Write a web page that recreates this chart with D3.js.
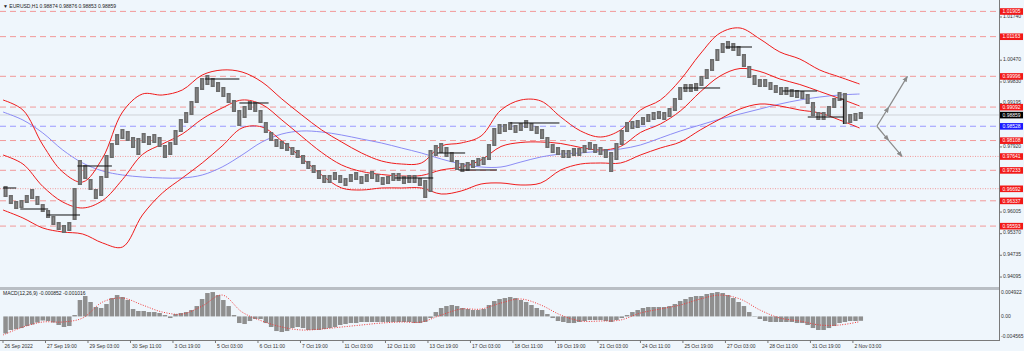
<!DOCTYPE html>
<html><head><meta charset="utf-8">
<script src="https://cdn.jsdelivr.net/npm/d3@7"></script>
<style>html,body{margin:0;padding:0;background:#eff6fc;overflow:hidden}text{font-family:"Liberation Sans",Arial,sans-serif}</style>
</head><body><svg id="c" width="1024" height="351"></svg>
<script>
// ---------- DATA ----------
const symbolTitle = "EURUSD,H1";
const lastBarOHLC = [0.98874, 0.98876, 0.98853, 0.98859];
const barsPerGroup = 4;      // each entry below summarises 4 hourly bars
const groupHigh = [
0.96772,0.96507,0.96331,0.96360,0.96507,0.96683,0.96478,0.96242,0.96066,0.95890,
0.95713,0.95625,0.95713,0.96713,0.97536,0.97389,0.96977,0.96683,0.97066,0.97683,
0.98036,0.98300,0.98447,0.98389,0.98212,0.98183,0.98330,0.98242,0.98300,0.98212,
0.97977,0.98065,0.98418,0.98741,0.98947,0.99271,0.99682,0.99947,1.00035,0.99947,
0.99829,0.99682,0.99506,0.99300,0.99006,0.99124,0.99271,0.99241,0.99006,0.98653,
0.98359,0.98153,0.98095,0.98036,0.97918,0.97830,0.97683,0.97507,0.97389,0.97242,
0.97095,0.97095,0.97183,0.97095,0.97007,0.97124,0.97183,0.97066,0.97124,0.97213,
0.97124,0.97036,0.97066,0.97154,0.97154,0.97066,0.97095,0.97095,0.97007,0.96948,
0.97830,0.97977,0.98036,0.97918,0.97771,0.97536,0.97448,0.97477,0.97536,0.97595,
0.97624,0.98006,0.98477,0.98594,0.98594,0.98653,0.98565,0.98624,0.98712,0.98624,
0.98536,0.98447,0.98212,0.98006,0.97918,0.97830,0.97830,0.97889,0.97889,0.97977,
0.98065,0.98006,0.97918,0.97859,0.97771,0.98036,0.98418,0.98653,0.98683,0.98712,
0.98800,0.98888,0.98947,0.98977,0.98947,0.99065,0.99359,0.99682,0.99770,0.99770,
0.99800,1.00006,1.00211,1.00505,1.00799,1.00976,1.01035,1.00976,1.00888,1.00652,
1.00300,1.00035,0.99917,0.99917,0.99829,0.99741,0.99682,0.99682,0.99623,0.99594,
0.99565,0.99476,0.99241,0.98947,0.98947,0.99124,0.99359,0.99535,0.99506,0.98888,
0.98918,0.98947];
const groupLow = [
0.96448,0.96242,0.96095,0.96125,0.96272,0.96389,0.96213,0.96007,0.95831,0.95625,
0.95478,0.95390,0.95449,0.95772,0.96801,0.96977,0.96654,0.96389,0.96478,0.97007,
0.97595,0.97977,0.98153,0.98095,0.97889,0.97683,0.98036,0.97977,0.98036,0.97918,
0.97595,0.97683,0.97977,0.98359,0.98624,0.98859,0.99212,0.99594,0.99741,0.99682,
0.99535,0.99388,0.99212,0.98947,0.98536,0.98771,0.99006,0.98947,0.98624,0.98330,
0.98095,0.97918,0.97859,0.97801,0.97683,0.97595,0.97418,0.97271,0.97154,0.96977,
0.96860,0.96860,0.96948,0.96860,0.96772,0.96889,0.96948,0.96830,0.96889,0.96977,
0.96889,0.96801,0.96830,0.96919,0.96919,0.96830,0.96860,0.96860,0.96772,0.96419,
0.96595,0.97654,0.97742,0.97624,0.97477,0.97242,0.97183,0.97213,0.97301,0.97360,
0.97389,0.97536,0.97948,0.98300,0.98359,0.98418,0.98330,0.98389,0.98477,0.98389,
0.98300,0.98153,0.97889,0.97742,0.97683,0.97595,0.97595,0.97654,0.97654,0.97742,
0.97830,0.97742,0.97683,0.97595,0.97183,0.97536,0.97977,0.98359,0.98447,0.98477,
0.98565,0.98653,0.98712,0.98741,0.98712,0.98800,0.98977,0.99300,0.99535,0.99535,
0.99565,0.99712,0.99917,1.00153,1.00447,1.00682,1.00799,1.00741,1.00594,1.00270,
0.99947,0.99741,0.99682,0.99682,0.99594,0.99506,0.99447,0.99447,0.99388,0.99359,
0.99329,0.99182,0.98830,0.98712,0.98712,0.98830,0.99065,0.99271,0.98594,0.98624,
0.98683,0.98741];

const indicatorStep = 15;   // indicator samples every 15 bars
const bbUpper = [
0.99300,0.99006,0.97977,0.97183,0.96889,0.97595,0.98947,0.99476,0.99447,0.99594,
1.00035,1.00182,1.00123,0.99829,0.99329,0.98859,0.98418,0.98065,0.97742,0.97507,
0.97418,0.97448,0.97948,0.98036,0.98242,0.99006,0.99300,0.99271,0.98800,0.98389,
0.98212,0.98418,0.99006,0.99300,0.99888,1.00652,1.01270,1.01417,1.01093,1.00711,
1.00505,1.00182,0.99976,0.99770];
const bbMiddle = [
0.97683,0.97418,0.96757,0.96301,0.96125,0.96345,0.96963,0.97698,0.98006,0.98300,
0.98741,0.99065,0.99300,0.99168,0.98712,0.98227,0.97757,0.97389,0.97198,0.97110,
0.97066,0.97080,0.97242,0.97330,0.97536,0.97933,0.98051,0.98065,0.98021,0.97904,
0.97830,0.97933,0.98345,0.98594,0.98977,0.99535,1.00006,1.00226,1.00138,0.99917,
0.99756,0.99550,0.99344,0.99124];
const bbLower = [
0.96066,0.95831,0.95537,0.95419,0.95360,0.95096,0.94978,0.95919,0.96566,0.97007,
0.97448,0.97948,0.98477,0.98506,0.98095,0.97595,0.97095,0.96713,0.96654,0.96713,
0.96713,0.96713,0.96536,0.96625,0.96830,0.96860,0.96801,0.96860,0.97242,0.97418,
0.97448,0.97448,0.97683,0.97889,0.98065,0.98418,0.98741,0.99035,0.99182,0.99124,
0.99006,0.98918,0.98712,0.98477];
const maSlow = [
0.98947,0.98712,0.98330,0.97830,0.97448,0.97213,0.97095,0.97036,0.97007,0.97007,
0.97095,0.97330,0.97683,0.98065,0.98300,0.98389,0.98359,0.98271,0.98153,0.98036,
0.97889,0.97742,0.97565,0.97418,0.97330,0.97330,0.97477,0.97624,0.97712,0.97742,
0.97801,0.97859,0.97977,0.98183,0.98389,0.98565,0.98741,0.98888,0.99035,0.99182,
0.99300,0.99388,0.99447,0.99476];

const macdTitle = "MACD(12,26,9) -0.000852 -0.001016";
const macdMain = [
-0.00330,-0.00263,-0.00244,-0.00225,-0.00186,-0.00157,-0.00118,-0.00079,-0.00089,-0.00118,
-0.00166,-0.00205,-0.00186,0.00027,0.00318,0.00395,0.00279,0.00182,0.00163,0.00240,
0.00356,0.00414,0.00376,0.00318,0.00143,0.00105,0.00105,0.00085,0.00085,0.00066,
0.00027,-0.00031,0.00046,0.00066,0.00085,0.00124,0.00201,0.00337,0.00453,0.00472,
0.00414,0.00318,0.00201,0.00027,-0.00128,-0.00147,-0.00089,-0.00050,-0.00050,-0.00128,
-0.00205,-0.00283,-0.00302,-0.00283,-0.00225,-0.00205,-0.00225,-0.00263,-0.00263,-0.00263,
-0.00244,-0.00225,-0.00205,-0.00166,-0.00147,-0.00128,-0.00128,-0.00108,-0.00108,-0.00108,
-0.00108,-0.00108,-0.00108,-0.00108,-0.00108,-0.00108,-0.00108,-0.00128,-0.00128,-0.00108,
-0.00031,0.00085,0.00163,0.00201,0.00221,0.00201,0.00163,0.00143,0.00124,0.00124,
0.00143,0.00221,0.00298,0.00337,0.00356,0.00376,0.00356,0.00318,0.00279,0.00221,
0.00163,0.00124,0.00046,-0.00031,-0.00089,-0.00108,-0.00128,-0.00128,-0.00108,-0.00089,
-0.00070,-0.00070,-0.00070,-0.00089,-0.00108,-0.00070,-0.00031,0.00027,0.00085,0.00124,
0.00163,0.00182,0.00182,0.00182,0.00182,0.00201,0.00240,0.00298,0.00337,0.00376,
0.00395,0.00395,0.00434,0.00453,0.00472,0.00453,0.00414,0.00356,0.00279,0.00201,
0.00085,0.00008,-0.00050,-0.00089,-0.00108,-0.00108,-0.00108,-0.00108,-0.00108,-0.00128,
-0.00128,-0.00166,-0.00225,-0.00263,-0.00263,-0.00225,-0.00186,-0.00128,-0.00108,-0.00089,
-0.00089,-0.00085];
const macdSignal = [
-0.00360,-0.00205,-0.00108,-0.00108,-0.00031,0.00279,0.00356,0.00221,0.00085,0.00046,
0.00201,0.00414,0.00085,-0.00089,-0.00205,-0.00263,-0.00244,-0.00205,-0.00166,-0.00128,
-0.00108,-0.00108,0.00027,0.00143,0.00143,0.00260,0.00337,0.00221,0.00027,-0.00089,
-0.00089,-0.00070,0.00066,0.00143,0.00221,0.00337,0.00414,0.00337,0.00124,-0.00031,
-0.00089,-0.00166,-0.00166,-0.00102];
const macdScaleLabels = [0.004922, 0.00, -0.004565];

const dashedLevels = [1.01905, 1.01163, 0.99996, 0.99092, 0.98108, 0.97233, 0.96337, 0.95593];
const dottedLevels = [0.97641, 0.96692];
const pivotLevel = [0.98528];
const bidPrice = 0.98859;
// price scale labels visible in the picture (the others sit under level boxes)
const priceTicks = [1.01740,1.00470,0.99830,0.99195,0.97920,0.96005,0.95370,0.94735,0.94095];

const timeLabels = ["26 Sep 2022","27 Sep 19:00","29 Sep 03:00","30 Sep 11:00","3 Oct 19:00","5 Oct 03:00","6 Oct 11:00","7 Oct 19:00","11 Oct 03:00","12 Oct 11:00","13 Oct 19:00","17 Oct 03:00","18 Oct 11:00","19 Oct 19:00","21 Oct 03:00","24 Oct 11:00","25 Oct 19:00","27 Oct 03:00","28 Oct 11:00","31 Oct 19:00","2 Nov 03:00"];
const timeLabelBars = [0,32,64,96,128,160,192,224,256,288,320,352,384,416,448,480,512,544,576,608,640];

// black session lines: [barFrom, priceFrom, barTo, priceTo]
const sessionLines = [
[0,0.96713,10,0.96713],[13,0.96095,34,0.96095],[33,0.95919,58,0.95919],[56,0.97360,82,0.97360],
[152,0.99917,178,0.99917],[178,0.99212,200,0.99212],[295,0.97007,324,0.97007],[327,0.97742,348,0.97742],
[343,0.97242,372,0.97242],[382,0.98624,419,0.98624],[512,0.99653,540,0.99653],[544,1.00858,564,1.00858],
[587,0.99565,613,0.99565],[606,0.98800,633,0.98800],[630,0.99329,633,0.99329],[633,0.99329,633,0.98594]];

// projected scenarios [bar, price]
const projUp = [[658,0.98528],[667,0.99092],[681,0.99996]];
const projDown = [[658,0.98528],[667,0.98108],[677,0.97641]];

// ---------- DRAWING ----------
const W = 1024, H = 351;
const svg = d3.select('#c');
const bg = '#eff6fc';
svg.append('rect').attr('width', W).attr('height', H).attr('fill', bg);

const xS = d3.scaleLinear().domain([0, 750]).range([3, 999]);
const yP = d3.scaleLinear().domain([0.9408, 1.0224]).range([277.55, 0]);
const yM = d3.scaleLinear().domain([-0.004565, 0.004922]).range([340, 291]);

const defs = svg.append('defs');
defs.append('clipPath').attr('id', 'cm').append('rect').attr('x', 0).attr('y', 0).attr('width', 999).attr('height', 287);
defs.append('clipPath').attr('id', 'cd').append('rect').attr('x', 0).attr('y', 290).attr('width', 999).attr('height', 50);
defs.append('marker').attr('id', 'ah').attr('viewBox', '0 0 10 10').attr('refX', 9).attr('refY', 5)
  .attr('markerWidth', 5).attr('markerHeight', 5).attr('orient', 'auto')
  .append('path').attr('d', 'M0,1 L10,5 L0,9 Z').attr('fill', '#8a8a8a');

const main = svg.append('g').attr('clip-path', 'url(#cm)');

// level lines
dashedLevels.forEach(p => main.append('line').attr('x1', 0).attr('x2', 999).attr('y1', yP(p)).attr('y2', yP(p))
  .attr('stroke', '#f29a9a').attr('stroke-width', 1).attr('stroke-dasharray', '6,4'));
dottedLevels.forEach(p => main.append('line').attr('x1', 0).attr('x2', 999).attr('y1', yP(p)).attr('y2', yP(p))
  .attr('stroke', '#f29a9a').attr('stroke-width', 1).attr('stroke-dasharray', '1,1.5'));
pivotLevel.forEach(p => main.append('line').attr('x1', 0).attr('x2', 999).attr('y1', yP(p)).attr('y2', yP(p))
  .attr('stroke', '#9a9aff').attr('stroke-width', 1).attr('stroke-dasharray', '6,4'));
main.append('line').attr('x1', 0).attr('x2', 999).attr('y1', yP(bidPrice)).attr('y2', yP(bidPrice))
  .attr('stroke', '#cfd3d8').attr('stroke-width', 1);

// indicator lines
const indLine = d3.line().x((d, k) => xS(k * indicatorStep)).y(d => yP(d)).curve(d3.curveCatmullRom.alpha(0.5));
main.append('path').attr('d', indLine(maSlow)).attr('fill', 'none').attr('stroke', '#8c8cf5').attr('stroke-width', 1);
[bbUpper, bbMiddle, bbLower].forEach(arr => main.append('path').attr('d', indLine(arr))
  .attr('fill', 'none').attr('stroke', '#f01c1c').attr('stroke-width', 1));

// price bars (grouped)
const gw = xS(barsPerGroup) - xS(0);
main.selectAll('rect.pb').data(groupHigh).enter().append('rect').attr('class', 'pb')
  .attr('x', (d, i) => xS(i * barsPerGroup) + 0.5)
  .attr('width', gw - 1.2)
  .attr('y', d => yP(d))
  .attr('height', (d, i) => Math.max(1, yP(groupLow[i]) - yP(d)))
  .attr('fill', '#6c6c6c');
main.selectAll('line.pw').data(groupHigh).enter().append('line').attr('class', 'pw')
  .attr('x1', (d, i) => xS(i * barsPerGroup + 2)).attr('x2', (d, i) => xS(i * barsPerGroup + 2))
  .attr('y1', d => yP(d) + 1.5).attr('y2', (d, i) => yP(groupLow[i]) - 1.5)
  .attr('stroke', '#a8a8a8').attr('stroke-width', 0.6);

// session lines
sessionLines.forEach(s => main.append('line').attr('x1', xS(s[0])).attr('x2', xS(s[2]))
  .attr('y1', yP(s[1])).attr('y2', yP(s[3])).attr('stroke', '#111').attr('stroke-width', 1));

// projections
[projUp, projDown].forEach(pr => {
  for (let k = 0; k < pr.length - 1; k++) {
    main.append('line').attr('x1', xS(pr[k][0])).attr('y1', yP(pr[k][1]))
      .attr('x2', xS(pr[k + 1][0])).attr('y2', yP(pr[k + 1][1]))
      .attr('stroke', '#8a8a8a').attr('stroke-width', 1.2).attr('marker-end', 'url(#ah)');
  }
});

// header
svg.append('text').attr('x', 3).attr('y', 7.5).attr('font-size', 5).attr('fill', '#222')
  .text('\u25BC ' + symbolTitle + ' ' + lastBarOHLC.map(v => v.toFixed(5)).join(' '));

// separators and axes
svg.append('rect').attr('x', 0).attr('y', 287).attr('width', 1000).attr('height', 3).attr('fill', '#b9bec4');
svg.append('line').attr('x1', 999.5).attr('x2', 999.5).attr('y1', 0).attr('y2', 340).attr('stroke', '#7a7a7a');
svg.append('line').attr('x1', 0).attr('x2', 1000).attr('y1', 340.5).attr('y2', 340.5).attr('stroke', '#7a7a7a');

// price tick labels
priceTicks.forEach(t => {
  svg.append('line').attr('x1', 999).attr('x2', 1002).attr('y1', yP(t)).attr('y2', yP(t)).attr('stroke', '#777');
  svg.append('text').attr('x', 1003).attr('y', yP(t) + 0.6).attr('font-size', 5).attr('fill', '#333').text(t.toFixed(5));
});
// level boxes
function box(p, fill) {
  const y = yP(p);
  svg.append('rect').attr('x', 1000).attr('y', y - 3.2).attr('width', 23).attr('height', 6.6).attr('fill', fill);
  svg.append('text').attr('x', 1002.5).attr('y', y + 1.8).attr('font-size', 5).attr('fill', '#fff').text(p.toFixed(5));
}
dashedLevels.forEach(p => box(p, '#f21818'));
dottedLevels.forEach(p => box(p, '#f21818'));
pivotLevel.forEach(p => box(p, '#1a1aff'));
box(bidPrice, '#000');

// MACD panel
const sub = svg.append('g').attr('clip-path', 'url(#cd)');
sub.selectAll('rect.mh').data(macdMain).enter().append('rect').attr('class', 'mh')
  .attr('x', (d, i) => xS(i * barsPerGroup) + 0.3).attr('width', gw - 0.8)
  .attr('y', d => Math.min(yM(0), yM(d))).attr('height', d => Math.abs(yM(d) - yM(0)))
  .attr('fill', '#8f8f8f');
const sigLine = d3.line().x((d, k) => xS(k * indicatorStep)).y(d => yM(d)).curve(d3.curveCatmullRom.alpha(0.5));
sub.append('path').attr('d', sigLine(macdSignal)).attr('fill', 'none').attr('stroke', '#f03a3a')
  .attr('stroke-width', 1).attr('stroke-dasharray', '1,1.5');
svg.append('text').attr('x', 3).attr('y', 295).attr('font-size', 5).attr('fill', '#222').text(macdTitle);
const macdLabelY = [294, 318, 338];
macdScaleLabels.forEach((v, k) => svg.append('text').attr('x', 1001).attr('y', macdLabelY[k]).attr('font-size', 5)
  .attr('fill', '#333').text(v === 0 ? '0.00' : v.toFixed(6)));

// time axis
timeLabels.forEach((t, k) => {
  const x = xS(timeLabelBars[k]);
  svg.append('line').attr('x1', x).attr('x2', x).attr('y1', 340).attr('y2', 343).attr('stroke', '#777');
  svg.append('text').attr('x', x + 1.5).attr('y', 347.5).attr('font-size', 5).attr('fill', '#333').text(t);
});
</script>
</body></html>
